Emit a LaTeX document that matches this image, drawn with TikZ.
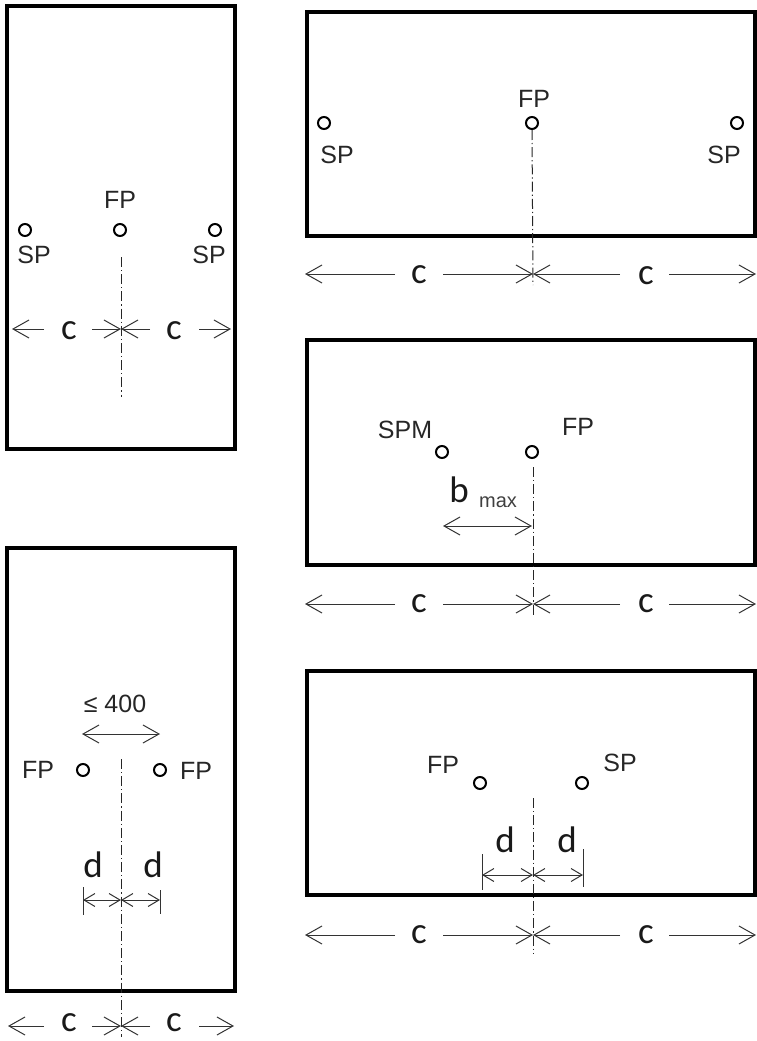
\documentclass[tikz,border=0pt]{standalone}
\usepackage{fontspec}
\setmainfont{Liberation Sans}
\newfontfamily\dimfont{Carlito}
\usetikzlibrary{arrows.meta}
\tikzset{
	wall/.style={line width=4.4pt, line join=miter},
	bolt/.style={circle, draw, line width=2pt, minimum size=12pt, inner sep=0pt},
	axisline/.style={line width=1pt, black!85, dash pattern=on 10pt off 3pt on 1.2pt off 3pt},
	dimbig/.style={line width=1pt, black!80, -{Straight Barb[length=16pt,width=18pt,line width=1pt]}},
	dimsmall/.style={line width=1pt, black!80, {Straight Barb[length=11pt,width=13pt,line width=1pt]}-{Straight Barb[length=11pt,width=13pt,line width=1pt]}},
	dimmid/.style={line width=1pt, black!80, {Straight Barb[length=16pt,width=18pt,line width=1pt]}-{Straight Barb[length=16pt,width=18pt,line width=1pt]}},
	tick/.style={line width=1pt, black!80},
	boltlabel/.style={font=\fontsize{25}{25}\selectfont, text=black!85, inner sep=0pt},
	dimlabel/.style={font=\dimfont\fontsize{37}{37}\selectfont, text=black!90, inner sep=0pt},
	sublabel/.style={font=\fontsize{20}{20}\selectfont, text=black!75, inner sep=0pt}
}
\begin{document}
\begin{tikzpicture}[x=1pt,y=-1pt]
	\useasboundingbox (0,0) rectangle (756,1041);

	% Upper left panel
	\draw[wall] (7,6) rectangle (235,449);
	\node[bolt] (spAl) at (25,230) {};
	\node[bolt] (fpA) at (120,230) {};
	\node[bolt] (spAr) at (215,230) {};
	\node[boltlabel] (fpAlabel) at (120,200) {FP};
	\node[boltlabel] (spAllabel) at (34,255) {SP};
	\node[boltlabel] (spArlabel) at (209,255) {SP};
	% centre line
	\coordinate (axAtop) at (121,257);
	\coordinate (axAbot) at (121,397);
	\draw[axisline] (axAtop) -- (axAbot);
	% c dimensions
	\coordinate (dAm) at (121,329);
	\coordinate (dAl) at (12,329);
	\coordinate (dAlin) at (44,329);
	\coordinate (dAlout) at (92,329);
	\coordinate (dArin) at (150,329);
	\coordinate (dArout) at (199,329);
	\coordinate (dAr) at (231,329);
	\draw[dimbig] (dAlin) -- (dAl);
	\draw[dimbig] (dAlout) -- (dAm);
	\draw[dimbig] (dArin) -- (dAm);
	\draw[dimbig] (dArout) -- (dAr);
	\node[dimlabel] (cAl) at (69,331) {c};
	\node[dimlabel] (cAr) at (174,331) {c};

	% Lower left panel
	\draw[wall] (7,548) rectangle (235,991);
	\node[bolt] (fpEl) at (83,770) {};
	\node[bolt] (fpEr) at (160,770) {};
	\node[boltlabel] (fpEllabel) at (38,770) {FP};
	\node[boltlabel] (fpErlabel) at (196,771) {FP};
	\node[boltlabel] (limE) at (115,704) {≤ 400};
	\coordinate (limEl) at (82,734);
	\coordinate (limEr) at (160,734);
	\draw[dimmid] (limEl) -- (limEr);
	% centre line
	\coordinate (axEtop) at (121,759);
	\coordinate (axEbot) at (121,1037);
	\draw[axisline] (axEtop) -- (axEbot);
	% d dimensions
	\coordinate (dEl) at (83,900);
	\coordinate (dEm) at (121,900);
	\coordinate (dEr) at (160,900);
	\draw[dimsmall] (dEl) -- (dEm);
	\draw[dimsmall] (dEm) -- (dEr);
	\draw[tick] (83,887) -- (83,915);
	\draw[tick] (160,890) -- (160,914);
	\node[dimlabel] (dElabel) at (93,865) {d};
	\node[dimlabel] (dErlabel) at (153,865) {d};
	% c dimensions
	\coordinate (eEm) at (121,1026);
	\coordinate (eEl) at (8,1026);
	\coordinate (eElin) at (44,1026);
	\coordinate (eElout) at (92,1026);
	\coordinate (eErin) at (150,1026);
	\coordinate (eErout) at (199,1026);
	\coordinate (eEr) at (234,1026);
	\draw[dimbig] (eElin) -- (eEl);
	\draw[dimbig] (eElout) -- (eEm);
	\draw[dimbig] (eErin) -- (eEm);
	\draw[dimbig] (eErout) -- (eEr);
	\node[dimlabel] (cEl) at (69,1023) {c};
	\node[dimlabel] (cEr) at (174,1023) {c};

	% Top right panel
	\draw[wall] (307,12) rectangle (755,236);
	\node[bolt] (spBl) at (324,123) {};
	\node[bolt] (fpB) at (532,123) {};
	\node[bolt] (spBr) at (737,123) {};
	\node[boltlabel] (fpBlabel) at (534,99) {FP};
	\node[boltlabel] (spBllabel) at (337,155) {SP};
	\node[boltlabel] (spBrlabel) at (724,155) {SP};
	% centre line
	\coordinate (axBbot) at (533,285);
	\draw[axisline] (fpB.south) -- (axBbot);
	% c dimensions
	\coordinate (dBm) at (533,274);
	\coordinate (dBl) at (305,274);
	\coordinate (dBlin) at (395,274);
	\coordinate (dBlout) at (443,274);
	\coordinate (dBrin) at (620,274);
	\coordinate (dBrout) at (669,274);
	\coordinate (dBr) at (756,274);
	\draw[dimbig] (dBlin) -- (dBl);
	\draw[dimbig] (dBlout) -- (dBm);
	\draw[dimbig] (dBrin) -- (dBm);
	\draw[dimbig] (dBrout) -- (dBr);
	\node[dimlabel] (cBl) at (419,275) {c};
	\node[dimlabel] (cBr) at (646,276) {c};

	% Middle right panel
	\draw[wall] (307,340) rectangle (755,565);
	\node[bolt] (spmC) at (442,452) {};
	\node[bolt] (fpC) at (532,452) {};
	\node[boltlabel] (spmClabel) at (405,430) {SPM};
	\node[boltlabel] (fpClabel) at (578,427) {FP};
	% centre line
	\coordinate (axCtop) at (533,467);
	\coordinate (axCbot) at (533,617);
	\draw[axisline] (axCtop) -- (axCbot);
	% b dimension
	\coordinate (bCl) at (443,526);
	\coordinate (bCr) at (532,526);
	\draw[dimmid] (bCl) -- (bCr);
	\node[dimlabel] (bClabel) at (459,490) {b};
	\node[sublabel] (maxClabel) at (498,502) {max};
	% c dimensions
	\coordinate (dCm) at (533,604);
	\coordinate (dCl) at (305,604);
	\coordinate (dClin) at (395,604);
	\coordinate (dClout) at (443,604);
	\coordinate (dCrin) at (620,604);
	\coordinate (dCrout) at (669,604);
	\coordinate (dCr) at (756,604);
	\draw[dimbig] (dClin) -- (dCl);
	\draw[dimbig] (dClout) -- (dCm);
	\draw[dimbig] (dCrin) -- (dCm);
	\draw[dimbig] (dCrout) -- (dCr);
	\node[dimlabel] (cCl) at (419,604) {c};
	\node[dimlabel] (cCr) at (646,604) {c};

	% Bottom right panel
	\draw[wall] (307,671) rectangle (755,895);
	\node[bolt] (fpD) at (480,783) {};
	\node[bolt] (spD) at (582,783) {};
	\node[boltlabel] (fpDlabel) at (443,765) {FP};
	\node[boltlabel] (spDlabel) at (620,763) {SP};
	% centre line
	\coordinate (axDtop) at (533,798);
	\coordinate (axDbot) at (533,953);
	\draw[axisline] (axDtop) -- (axDbot);
	% d dimensions
	\coordinate (eDl) at (482,875);
	\coordinate (eDm) at (533,875);
	\coordinate (eDr) at (583,875);
	\draw[dimsmall] (eDl) -- (eDm);
	\draw[dimsmall] (eDm) -- (eDr);
	\draw[tick] (482,854) -- (482,890);
	\draw[tick] (583,849) -- (583,887);
	\node[dimlabel] (dDl) at (505,840) {d};
	\node[dimlabel] (dDr) at (567,840) {d};
	% c dimensions
	\coordinate (fDm) at (533,935);
	\coordinate (fDl) at (305,935);
	\coordinate (fDlin) at (395,935);
	\coordinate (fDlout) at (443,935);
	\coordinate (fDrin) at (620,935);
	\coordinate (fDrout) at (669,935);
	\coordinate (fDr) at (756,935);
	\draw[dimbig] (fDlin) -- (fDl);
	\draw[dimbig] (fDlout) -- (fDm);
	\draw[dimbig] (fDrin) -- (fDm);
	\draw[dimbig] (fDrout) -- (fDr);
	\node[dimlabel] (cDl) at (419,935) {c};
	\node[dimlabel] (cDr) at (646,935) {c};
\end{tikzpicture}
\end{document}
